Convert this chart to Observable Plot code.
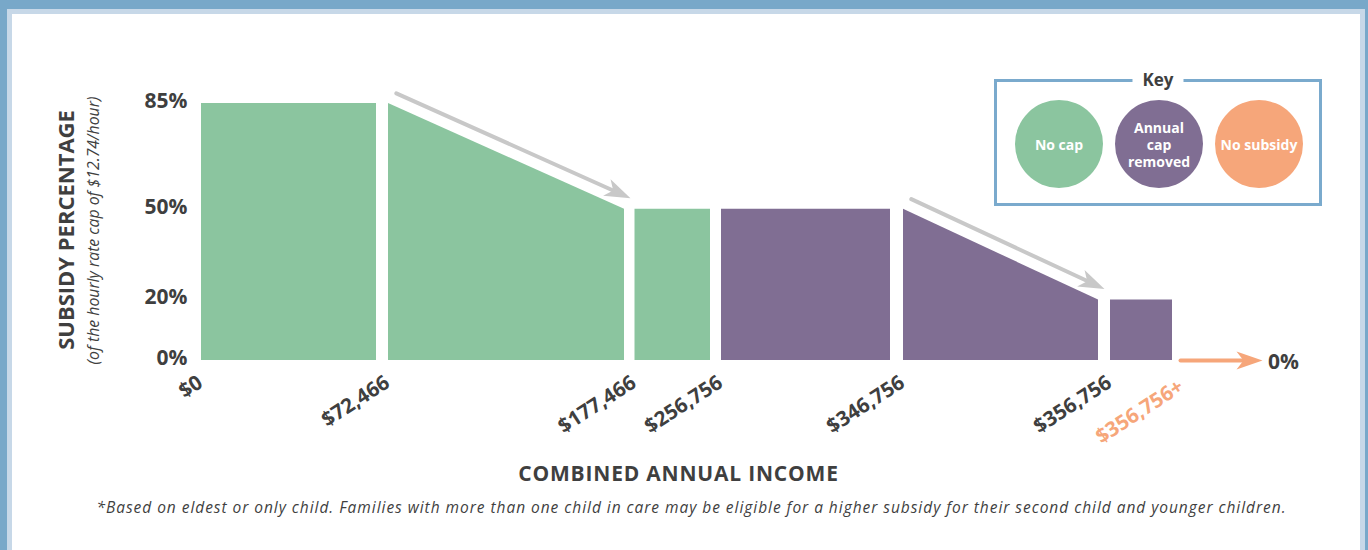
<!DOCTYPE html>
<html>
<head>
<meta charset="utf-8">
<script src="https://cdn.jsdelivr.net/npm/d3@7"></script>
<script src="https://cdn.jsdelivr.net/npm/@observablehq/plot@0.6"></script>
<style>
  body { margin: 0; background: #fff; }
  #page { position: relative; width: 1368px; height: 550px; overflow: hidden; background: #78a8c9; font-family: "Open Sans", sans-serif; color: #404040; }
  #inner { position: absolute; left: 7px; top: 9px; width: 1358px; height: 541px; background: #c7d8e8; }
  #white { position: absolute; left: 12px; top: 14px; width: 1348px; height: 536px; background: #fff; }
  #chart { position: absolute; left: 0; top: 0; }
  #xtitle { position: absolute; left: 678.5px; top: 459px; transform: translateX(-50%); white-space: nowrap; font-weight: 700; font-size: 21px; letter-spacing: 0.8px; color: #3f3f3f; }
  #note { position: absolute; left: 691.5px; top: 496px; transform: translateX(-50%); white-space: nowrap; font-style: italic; font-size: 15.5px; letter-spacing: 0.96px; color: #3f3f3f; }
  #key { position: absolute; left: 994px; top: 79px; width: 322px; height: 121px; border: 3px solid #7aaacd; }
  #key .label { position: absolute; left: 50%; top: -14px; transform: translateX(-50%); background: #fff; padding: 0 10px; font-weight: 700; font-size: 17px; color: #3f3f3f; line-height: 24px; }
  #key .circle { position: absolute; top: 18px; width: 88px; height: 88px; border-radius: 50%; display: flex; align-items: center; justify-content: center; text-align: center; color: #fff; font-weight: 700; font-size: 14px; line-height: 17px; }
</style>
</head>
<body>
<div id="page">
  <div id="inner"></div>
  <div id="white"></div>
  <div id="chart"></div>
  <div id="key"></div>
  <div id="xtitle"></div>
  <div id="note"></div>
</div>
<script>
// ---- data ----
const boundaryLabels = ["$0", "$72,466", "$177,466", "$256,756", "$346,756", "$356,756", "$356,756+"];
const segmentStart = [85, 85, 50, 50, 50, 20];   // subsidy % at the left edge of each income band
const segmentEnd   = [85, 50, 50, 50, 20, 20];   // subsidy % at the right edge
const segmentType  = ["No cap", "No cap", "No cap", "Annual cap removed", "Annual cap removed", "Annual cap removed"];
const categories   = ["No cap", "Annual cap removed", "No subsidy"];
const categoryLabels = ["No cap", "Annual<br>cap<br>removed", "No subsidy"];
const yTicks = [0, 20, 50, 85];
const noSubsidyValue = 0;
const slopeSegments = [1, 4];
const xTitle = "COMBINED ANNUAL INCOME";
const yTitle = "SUBSIDY PERCENTAGE";
const ySubtitle = "(of the hourly rate cap of $12.74/hour)";
const footnote = "*Based on eldest or only child. Families with more than one child in care may be eligible for a higher subsidy for their second child and younger children.";

// ---- styles / layout ----
const colors = ["#8bc59f", "#806e93", "#f6a67a"];
const grey = "#c8c8c8";
const ink = "#3f3f3f";
const G = 0.01;                       // visual gap between bands (in band units)
const bandPx = [201, 388, 634.5, 721, 903, 1110, 1180, 1283]; // pixel position of each band boundary
const gapPx = [12, 10.5, 11, 13, 12, 8];
const xDomain = [0], xRange = [bandPx[0]];
for (let k = 1; k <= 6; k++) { xDomain.push(k - G, k); xRange.push(bandPx[k] - gapPx[k - 1], bandPx[k]); }
xDomain.push(7); xRange.push(bandPx[7]);

const points = segmentStart.flatMap((s, i) => [
  {x: i, y: s, seg: i, type: segmentType[i]},
  {x: i + 1 - G, y: segmentEnd[i], seg: i, type: segmentType[i]}
]);
const labels = boundaryLabels.map((t, i) => ({x: i, text: t, last: i === boundaryLabels.length - 1}));
const slopes = slopeSegments.map(i => ({x1: i, y1: segmentStart[i], x2: i + 1 - G, y2: segmentEnd[i]}));

const arrowHead = {
  draw(ctx) { const L = 26, W = 9, N = 19; ctx.moveTo(0, 0); ctx.lineTo(W, L); ctx.lineTo(0, N); ctx.lineTo(-W, L); ctx.closePath(); }
};

const font = "Open Sans";
const plot = Plot.plot({
  width: 1368, height: 455,
  marginLeft: 0, marginRight: 0, marginTop: 0, marginBottom: 0,
  style: {background: "transparent", fontFamily: font, overflow: "visible"},
  x: {type: "linear", domain: xDomain, range: xRange, axis: null},
  y: {type: "linear", domain: [0, 85], range: [360, 103], axis: null},
  color: {domain: categories, range: colors},
  marks: [
    Plot.areaY(points, {x: "x", y: "y", z: "seg", fill: "type", curve: "linear"}),
    // grey slope arrows
    Plot.arrow(slopes, {x1: "x1", y1: "y1", x2: "x2", y2: "y2", stroke: grey, strokeWidth: 4, headLength: 0, insetStart: 2, insetEnd: 16, dx: 6, dy: -11}),
    Plot.dot(slopes, {x: "x2", y: "y2", symbol: arrowHead, r: 5, fill: grey, stroke: "none", rotate: 114.5, dx: 6, dy: -11}),
    // no subsidy arrow
    Plot.arrow([noSubsidyValue], {x1: 6, x2: 7, y1: 0, y2: 0, stroke: colors[2], strokeWidth: 4, headLength: 0, insetEnd: 33}),
    Plot.dot([noSubsidyValue], {x: 7, y: 0, dx: -21, symbol: arrowHead, r: 5, fill: colors[2], stroke: "none", rotate: 90}),
    Plot.text([noSubsidyValue], {x: 7, y: 0, text: d => d + "%", dy: 2, fontSize: 21, fontWeight: 700, fill: ink, textAnchor: "middle"}),
    // x tick labels
    Plot.text(labels.filter(d => !d.last), {x: "x", y: 0, text: "text", rotate: -33, textAnchor: "end", dx: -1, dy: 20, fontSize: 20.5, fontWeight: 700, fill: ink}),
    Plot.text(labels.filter(d => d.last), {x: "x", y: 0, text: "text", rotate: -33, textAnchor: "end", dx: 1, dy: 24, fontSize: 20.5, fontWeight: 700, fill: colors[2]}),
    // y tick labels
    Plot.text(yTicks, {y: d => d, text: d => d + "%", frameAnchor: "left", dx: 187, dy: -2.5, textAnchor: "end", fontSize: 21, fontWeight: 700, fill: ink}),
    // y titles
    Plot.text([yTitle], {text: d => d, frameAnchor: "left", dx: 66, dy: 2, rotate: -90, textAnchor: "middle", fontSize: 22, fontWeight: 700, fill: ink}),
    Plot.text([ySubtitle], {text: d => d, frameAnchor: "left", dx: 93, dy: 2.5, rotate: -90, textAnchor: "middle", fontSize: 15.8, fontStyle: "italic", fill: ink})
  ]
});
document.getElementById("chart").appendChild(plot);

// key (legend)
const key = document.getElementById("key");
key.innerHTML = `<div class="label">Key</div>` + categories.map((c, i) =>
  `<div class="circle" style="left:${18 + i * 100}px;background:${colors[i]}">${categoryLabels[i]}</div>`).join("");
document.getElementById("xtitle").textContent = xTitle;
document.getElementById("note").textContent = footnote;
</script>
</body>
</html>
